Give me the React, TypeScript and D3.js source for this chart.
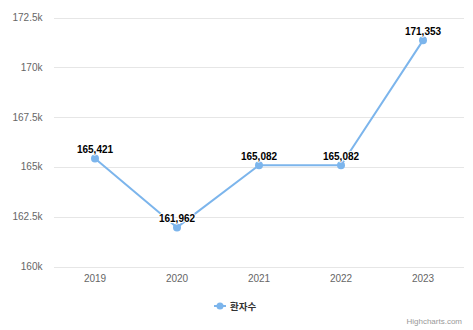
import React from "react";
import * as d3 from "d3";

const categories = ["2019", "2020", "2021", "2022", "2023"];
const values = [165421, 161962, 165082, 165082, 171353];
const yTicks = [160000, 162500, 165000, 167500, 170000, 172500];
const seriesName = "환자수";

const W = 473, H = 330;
const left = 54, right = 464, top = 17.5, bottom = 266.5;
const fontArial = "'Liberation Sans', Arial, 'Noto Sans CJK KR', sans-serif";
const fontKr = "'Noto Sans CJK KR', sans-serif";

export default function App() {
  const x = d3.scaleBand<string>().domain(categories).range([left, right]);
  const y = d3.scaleLinear().domain([160000, 172500]).range([bottom, top]);
  const fmtTick = (v: number) => {
    const k = v / 1000;
    return (Number.isInteger(k) ? k.toString() : k.toFixed(1)) + "k";
  };
  const fmtVal = d3.format(",");
  const pts = categories.map((c, i) => [x(c)! + x.bandwidth() / 2, y(values[i])] as [number, number]);
  const line = d3.line()(pts) || "";
  return (
    <svg width={W} height={H} style={{ position: "absolute", left: 0, top: 0, fontFamily: fontArial }}>
      <rect width={W} height={H} fill="#fff" />
      {yTicks.map((t) => (
        <g key={t}>
          <line x1={left} x2={right} y1={Math.round(y(t)) + 0.5} y2={Math.round(y(t)) + 0.5} stroke="#e6e6e6" strokeWidth={1} />
          <text x={42.5} y={y(t) + 3.5} textAnchor="end" fontSize={10} fill="#666">{fmtTick(t)}</text>
        </g>
      ))}
      {categories.map((c) => (
        <text key={c} x={x(c)! + x.bandwidth() / 2} y={281.5} textAnchor="middle" fontSize={10} fill="#666">{c}</text>
      ))}
      <path d={line} fill="none" stroke="#7cb5ec" strokeWidth={2} strokeLinejoin="round" />
      {pts.map((p, i) => (
        <circle key={i} cx={p[0]} cy={p[1]} r={4} fill="#7cb5ec" />
      ))}
      {pts.map((p, i) => (
        <text key={"l" + i} x={p[0]} y={p[1] - 5.5} textAnchor="middle" fontSize={10} fontWeight="bold" fill="#000"
          stroke="#fff" strokeWidth={2} strokeLinejoin="round" paintOrder="stroke">{fmtVal(values[i])}</text>
      ))}
      <g>
        <line x1={214} x2={226} y1={306} y2={306} stroke="#7cb5ec" strokeWidth={2} />
        <circle cx={220} cy={306} r={3.5} fill="#7cb5ec" />
        <text x={230} y={310} fontSize={9.5} fontWeight="bold" fill="#333" style={{ fontFamily: fontKr }}>{seriesName}</text>
      </g>
      <text x={462} y={324} textAnchor="end" fontSize={8} fill="#999">Highcharts.com</text>
    </svg>
  );
}
